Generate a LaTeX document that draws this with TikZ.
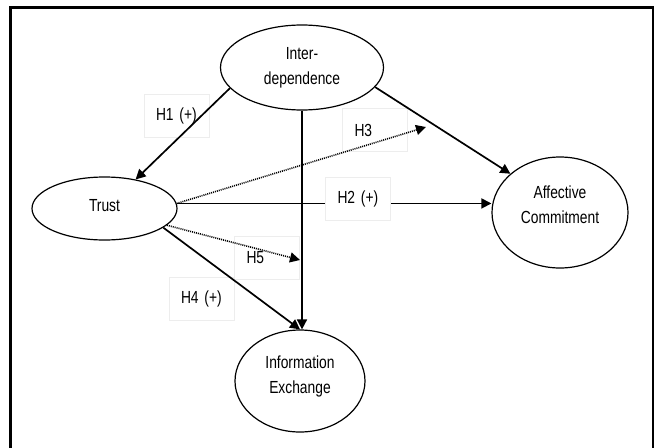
\documentclass[tikz,border=0pt]{standalone}
\usepackage{fontspec}
\setmainfont{Liberation Sans}[FakeStretch=0.79]
\usetikzlibrary{shapes.geometric,arrows.meta}
\begin{document}
\begin{tikzpicture}[x=1pt,y=-1pt,
  every node/.style={font=\fontsize{17.5}{25}\selectfont},
  var/.style={draw, ellipse, line width=1.2pt, inner sep=0pt, align=center},
  hyp/.style={draw=black!7, line width=0.8pt, fill=white, minimum width=65pt, minimum height=43pt, text width=41pt, inner xsep=12pt, inner ysep=0pt, align=left},
  conn/.style={line width=1.7pt, -{Triangle[length=10pt,width=10pt]}},
  dotconn/.style={line width=1.6pt, dash pattern=on 1pt off 1pt, -{Triangle[length=10pt,width=10pt]}}
]
\useasboundingbox (0,0) rectangle (655,447);
\clip (0,0) rectangle (655,447);
\draw[line width=2.5pt] (10.5,460) -- (10.5,7.5) -- (653,7.5) -- (653,460);

\node[var, minimum width=163pt, minimum height=85pt] (inter) at (302,67.5) {Inter-\\dependence};
\node[var, minimum width=145pt, minimum height=63pt, label={[yshift=3pt]center:Trust}] (trust) at (104.5,208.5) {};
\node[var, minimum width=136pt, minimum height=111pt, label={[align=center,yshift=8pt]center:Affective\\Commitment}] (aff) at (560,212.5) {};
\node[var, minimum width=130pt, minimum height=102pt, label={[align=center,yshift=5pt]center:Information\\Exchange}] (ie) at (300,381) {};

\node[hyp] (h1) at (176.5,115.5) {H1 (+)};
\node[hyp] (h3) at (375,130) {H3};
\node[hyp] (h5) at (267,258) {H5};
\node[hyp] (h4) at (201.5,298.5) {H4 (+)};

\coordinate (h3end) at (426,127);
\coordinate (h5end) at (300,260);

\draw[conn] (inter.south) -- (inter.south |- ie.north);
\draw[conn] (inter.196) -- (trust.43);
\draw[conn] (inter.-15) -- (aff.142);
\draw[conn] (trust.4) -- (trust.4 -| aff.west);
\draw[dotconn] (trust.4) -- (h3end);
\draw[dotconn] (trust.-15) -- (h5end);
\draw[conn] (trust.-18) -- (ie.north);

\node[hyp] (h2) at (358,198.5) {H2 (+)};
\end{tikzpicture}
\end{document}
